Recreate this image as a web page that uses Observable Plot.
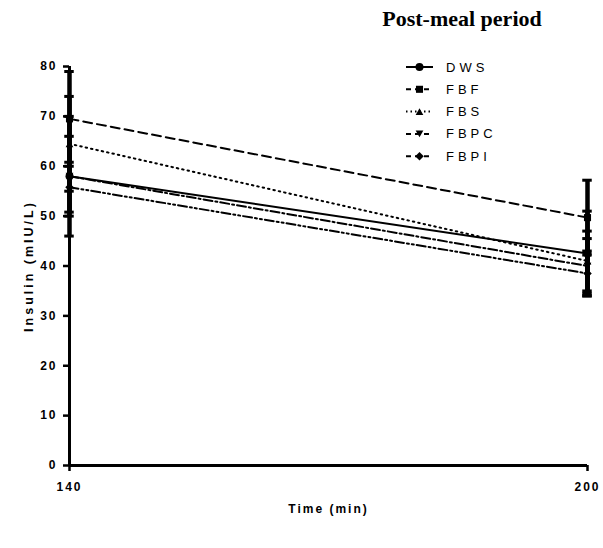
<!DOCTYPE html>
<html>
<head>
<meta charset="utf-8">
<script src="https://cdn.jsdelivr.net/npm/d3@7"></script>
<script src="https://cdn.jsdelivr.net/npm/@observablehq/plot@0.6"></script>
<style>
  html, body { margin: 0; padding: 0; background: #fff; }
  #wrap { position: relative; width: 603px; height: 548px; }
  #title { position: absolute; left: 0; top: 6px; width: 603px; height: 30px;
    font-family: "Liberation Serif", "Times New Roman", serif; font-weight: bold; font-size: 22px;
    color: #000; }
  #title span { position: absolute; left: 462px; transform: translateX(-50%); white-space: nowrap; }
  #chart { position: absolute; left: 0; top: 38px; }
  #legend { position: absolute; left: 0; top: 0; pointer-events: none; }
</style>
</head>
<body>
<div id="wrap">
  <div id="title"><span>Post-meal period</span></div>
  <div id="chart"></div>
  <svg id="legend" width="603" height="548"></svg>
</div>
<script>
// ---- data ----
const times = [140, 200];
const seriesNames = ["DWS", "FBF", "FBS", "FBPC", "FBPI"];
const dwsMean  = [58.0, 42.5];
const dwsSD    = [12.0, 8.5];
const fbfMean  = [69.5, 49.7];
const fbfSD    = [9.5, 7.5];
const fbsMean  = [64.5, 41.0];
const fbsSD    = [9.5, 6.0];
const fbpcMean = [58.0, 40.0];
const fbpcSD   = [8.0, 5.5];
const fbpiMean = [55.8, 38.5];
const fbpiSD   = [5.0, 4.5];
const yTicks = [0, 10, 20, 30, 40, 50, 60, 70, 80];
const xTicks = [140, 200];

const means = [dwsMean, fbfMean, fbsMean, fbpcMean, fbpiMean];
const sds = [dwsSD, fbfSD, fbsSD, fbpcSD, fbpiSD];
const rows = [];
seriesNames.forEach((s, i) => times.forEach((t, j) => rows.push({series: s, time: t, mean: means[i][j], sd: sds[i][j]})));

// ---- styles ----
const dashes = {DWS: "none", FBF: "9,5", FBS: "1.5,4", FBPC: "9,3,2,3", FBPI: "9,3,2,3,2,3"};
const triDown = {draw(ctx, size) {
  const h = Math.sqrt(size * 0.9), w = h * 1.15;
  ctx.moveTo(-w / 2, -h / 2); ctx.lineTo(w / 2, -h / 2); ctx.lineTo(0, h / 2); ctx.closePath();
}};
const triUp = {draw(ctx, size) {
  const h = Math.sqrt(size * 0.9), w = h * 1.15;
  ctx.moveTo(-w / 2, h / 2); ctx.lineTo(w / 2, h / 2); ctx.lineTo(0, -h / 2); ctx.closePath();
}};
const diamond = {draw(ctx, size) {
  const r = Math.sqrt(size) * 0.6;
  ctx.moveTo(0, -r); ctx.lineTo(r, 0); ctx.lineTo(0, r); ctx.lineTo(-r, 0); ctx.closePath();
}};
const symbolRange = ["circle", "square", triUp, triDown, diamond];
const font = '"Liberation Sans", Arial, sans-serif';

const lineMarks = seriesNames.map(s => Plot.line(rows.filter(d => d.series === s), {
  x: "time", y: "mean", stroke: "#000", strokeWidth: 2, strokeDasharray: dashes[s]
}));

const chart = Plot.plot({
  width: 603,
  height: 510,
  marginTop: 28,
  marginBottom: 83,
  marginLeft: 69,
  marginRight: 16,
  style: {fontFamily: font, fontSize: "12px", fontWeight: "bold", color: "#000", background: "transparent"},
  x: {domain: [140, 200], ticks: xTicks, tickSize: 6, label: null, tickFormat: d => d},
  y: {domain: [0, 80], ticks: yTicks, tickSize: 6, label: null},
  symbol: {domain: seriesNames, range: symbolRange},
  marks: [
    ...lineMarks,
    Plot.ruleX(rows, {x: "time", y1: d => d.mean - d.sd, y2: d => d.mean + d.sd, stroke: "#000", strokeWidth: 4.5}),
    Plot.ruleY(rows, {y: d => d.mean - d.sd, x1: d => d.time - 0.55, x2: d => d.time + 0.55, stroke: "#000", strokeWidth: 3}),
    Plot.ruleY(rows, {y: d => d.mean + d.sd, x1: d => d.time - 0.55, x2: d => d.time + 0.55, stroke: "#000", strokeWidth: 3}),
    Plot.dot(rows, {x: "time", y: "mean", symbol: "series", fill: "#000", stroke: "none", r: 4}),
    Plot.ruleY([0], {stroke: "#000", strokeWidth: 3}),
    Plot.ruleX([140], {stroke: "#000", strokeWidth: 3}),
    Plot.axisX({ticks: xTicks, tickSize: 6, tickPadding: 11, strokeWidth: 2.5, label: null, tickFormat: d => d}),
    Plot.axisY({ticks: yTicks, tickSize: 6, tickPadding: 6, strokeWidth: 2.5, label: null}),
    Plot.text(["Time (min)"], {frameAnchor: "bottom", dy: 47, fontSize: 12, fontWeight: "bold"}),
    Plot.text(["Insulin (mIU/L)"], {frameAnchor: "left", dx: -41, rotate: -90, textAnchor: "middle", fontSize: 12.5, fontWeight: "bold"})
  ]
});
d3.select(chart).selectAll("text").style("letter-spacing", "2px");
d3.select(chart).selectAll("text").filter(function() { return this.textContent === "Insulin (mIU/L)"; }).style("letter-spacing", "3px");
document.getElementById("chart").appendChild(chart);

// ---- legend ----
const leg = d3.select("#legend");
const symGen = [d3.symbolCircle, d3.symbolSquare, triUp, triDown, diamond];
seriesNames.forEach((s, i) => {
  const y = 67 + i * 22.3;
  const g = leg.append("g").attr("transform", `translate(0,${y})`);
  g.append("line").attr("x1", 406).attr("x2", 433).attr("y1", 0).attr("y2", 0)
    .attr("stroke", "#000").attr("stroke-width", 2).attr("stroke-dasharray", dashes[s] === "none" ? null : (s === "FBS" ? "1.5,3" : "5,4"));
  g.append("path").attr("transform", "translate(419.5,0)").attr("d", d3.symbol(symGen[i], 50)()).attr("fill", "#000");
  g.append("text").attr("x", 446).attr("y", 0).attr("dy", "0.35em")
    .attr("font-family", font).attr("font-size", 13).style("letter-spacing", "4px").text(s);
});
</script>
</body>
</html>
